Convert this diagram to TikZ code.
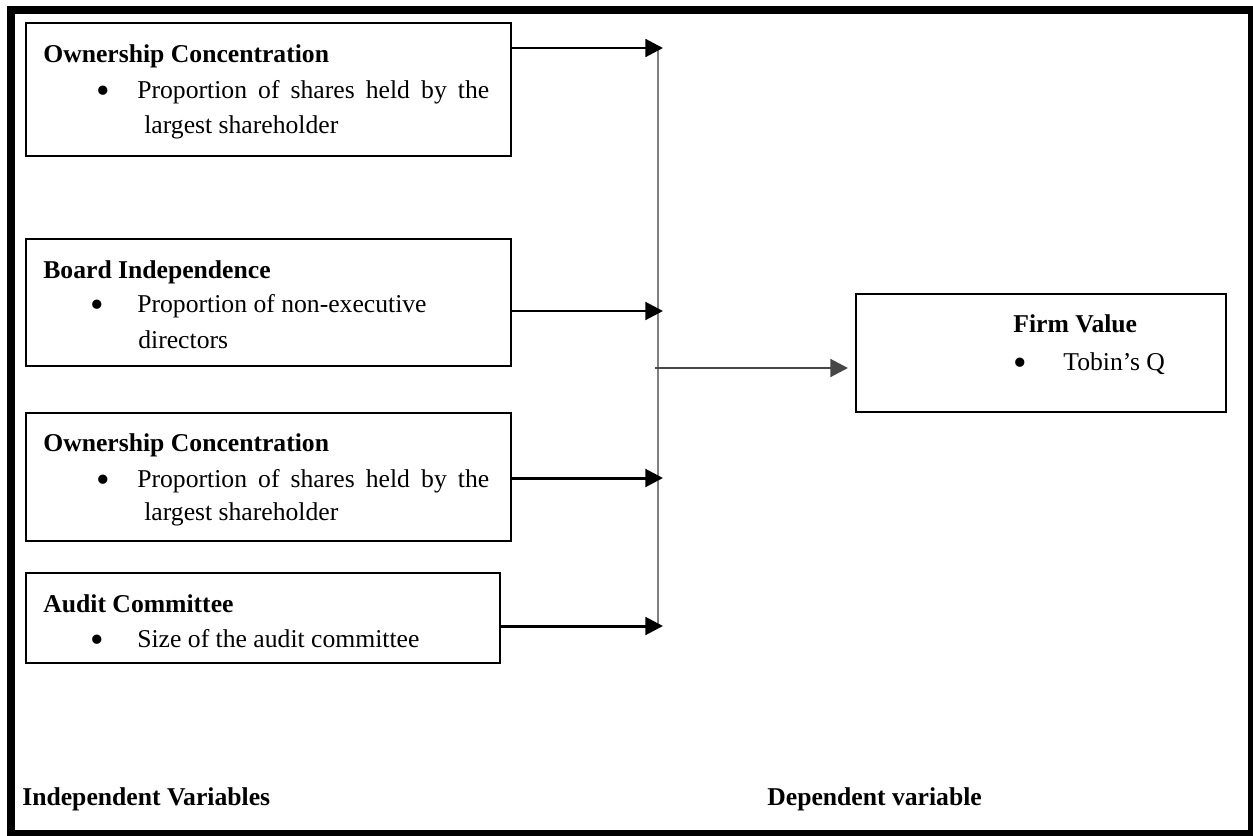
\documentclass[tikz,border=0pt]{standalone}
\usepackage{fontspec}
\setmainfont{Liberation Serif}
\usetikzlibrary{arrows.meta}
\usetikzlibrary{positioning}

\tikzset{
  varbox/.style={draw,rectangle,line width=1.1pt,anchor=north west,inner sep=0pt},
  ttl/.style={anchor=base west,inner sep=0pt,font=\fontsize{14.6}{18}\selectfont\bfseries},
  itm/.style={anchor=base west,inner sep=0pt,font=\fontsize{14.6}{18}\selectfont},
  dot/.style={anchor=base,inner sep=0pt,font=\fontsize{22}{22}\selectfont},
  feed/.style={line width=1.7pt,-{Triangle[length=10pt,width=10pt]}},
  bus/.style={line width=1.6pt,gray}
}

\begin{document}
\begin{tikzpicture}[x=0.02cm,y=-0.02cm]

  \useasboundingbox (0,0) rectangle (1253,835);
  \draw [line width=4.8pt] (11,10) rectangle (1252,834);

  % independent variables
  \node [varbox,minimum width=9.7cm,minimum height=2.66cm] (own1) at (25,22) {};
  \node [ttl] (own1t) at (43,62) {Ownership Concentration};
  \node [dot] (own1b) at (103,103) {\textbullet};
  \node [itm] (own1a) at (137,98) {\makebox[7.04cm][s]{Proportion of shares held by the}};
  \node [itm] (own1c) at (144,133) {largest shareholder};

  \node [varbox,minimum width=9.7cm,minimum height=2.54cm] (board) at (25,238) {};
  \node [ttl] (boardt) at (43,278) {Board Independence};
  \node [dot] (boardb) at (97,317) {\textbullet};
  \node [itm] (boarda) at (137,312) {Proportion of non-executive};
  \node [itm] (boardc) at (138,348) {directors};

  \node [varbox,minimum width=9.7cm,minimum height=2.56cm] (own2) at (25,412) {};
  \node [ttl] (own2t) at (43,451) {Ownership Concentration};
  \node [dot] (own2b) at (103,492) {\textbullet};
  \node [itm] (own2a) at (137,487) {\makebox[7.04cm][s]{Proportion of shares held by the}};
  \node [itm] (own2c) at (144,520) {largest shareholder};

  \node [varbox,minimum width=9.48cm,minimum height=1.8cm] (audit) at (25,572) {};
  \node [ttl] (auditt) at (43,612) {Audit Committee};
  \node [dot] (auditb) at (97,652) {\textbullet};
  \node [itm] (audita) at (137,647) {Size of the audit committee};

  % dependent variable
  \node [varbox,minimum width=7.4cm,minimum height=2.36cm] (firm) at (855,293) {};
  \node [ttl] (firmt) at (1013,332) {Firm Value};
  \node [dot] (firmb) at (1020,375) {\textbullet};
  \node [itm] (firma) at (1063,370) {Tobin’s Q};

  % connectors
  \coordinate (bustop) at (658,48);
  \coordinate (busbot) at (658,628);
  \coordinate (j1) at (663,48);
  \coordinate (j2) at (663,311);
  \coordinate (j3) at (663,478);
  \coordinate (j4) at (663,626);
  \coordinate (jout) at (655,368);

  \draw [bus] (bustop) -- (busbot);

  \draw [feed] (own1.east |- j1) -- (j1);
  \draw [feed] (board.east |- j2) -- (j2);
  \draw [feed] (own2.east |- j3) -- (j3);
  \draw [feed] (audit.east |- j4) -- (j4);
  \draw [feed,gray!55!black,shorten >=0.14cm] (jout) -- (firm.west |- jout);

  \node [ttl] (indep) at (22,805) {Independent Variables};
  \node [ttl] (dep) at (767,805) {Dependent variable};

\end{tikzpicture}
\end{document}
